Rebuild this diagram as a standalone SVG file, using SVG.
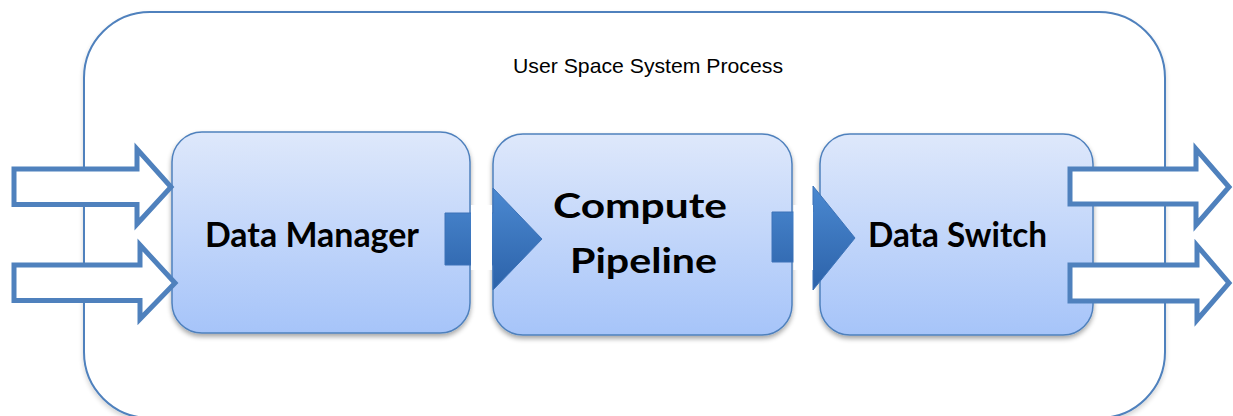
<svg xmlns="http://www.w3.org/2000/svg" width="1233" height="416" viewBox="0 0 1233 416">
  <defs>
    <linearGradient id="boxFill" x1="0" y1="0" x2="0" y2="1">
      <stop offset="0" stop-color="#dee8fb"/>
      <stop offset="1" stop-color="#a6c4f9"/>
    </linearGradient>
    <linearGradient id="flowFill" x1="0" y1="0" x2="0" y2="1">
      <stop offset="0" stop-color="#4b89d1"/>
      <stop offset="1" stop-color="#2c62a9"/>
    </linearGradient>
    <filter id="boxShadow" x="-10%" y="-10%" width="120%" height="125%">
      <feGaussianBlur in="SourceAlpha" stdDeviation="2.5"/>
      <feOffset dx="0" dy="3" result="b"/>
      <feComponentTransfer><feFuncA type="linear" slope="0.35"/></feComponentTransfer>
      <feMerge><feMergeNode/><feMergeNode in="SourceGraphic"/></feMerge>
    </filter>
    <filter id="frameShadow" x="-5%" y="-5%" width="110%" height="115%">
      <feGaussianBlur in="SourceAlpha" stdDeviation="2.5"/>
      <feOffset dx="0" dy="3" result="b"/>
      <feComponentTransfer><feFuncA type="linear" slope="0.18"/></feComponentTransfer>
      <feMerge><feMergeNode/><feMergeNode in="SourceGraphic"/></feMerge>
    </filter>
  </defs>
  <style>
    .frame { fill: #ffffff; stroke: #4f81bd; stroke-width: 2; }
    .box { fill: url(#boxFill); stroke: #4f81bd; stroke-width: 1.5; }
    .flow { fill: url(#flowFill); stroke: #3c73b8; stroke-width: 1; }
    .port { fill: #ffffff; stroke: #4f81bd; stroke-width: 5; stroke-linejoin: miter; }
    .gap { fill: #ffffff; }
    .title { font-family: "Liberation Sans", Arial, sans-serif; font-size: 21px; fill: #000000; text-anchor: middle; }
    .label { font-family: Lato, "Open Sans", sans-serif; font-weight: 700; font-size: 34px; fill: #000000; text-anchor: middle; }
  </style>

  <!-- process container -->
  <g id="process">
    <rect class="frame" x="84" y="12" width="1081" height="406" rx="66" ry="66" filter="url(#frameShadow)"/>
    <text class="title" x="648" y="73" textLength="270" lengthAdjust="spacingAndGlyphs">User Space System Process</text>
  </g>

  <g id="data-manager">
    <rect class="box" x="172" y="132" width="298" height="201" rx="30" ry="30" filter="url(#boxShadow)"/>
    <text class="label" x="312" y="247" textLength="214" lengthAdjust="spacingAndGlyphs">Data Manager</text>
  </g>

  <g id="compute-pipeline">
    <rect class="box" x="493" y="134" width="299" height="201" rx="30" ry="30" filter="url(#boxShadow)"/>
    <text class="label" x="640" y="218" textLength="174" lengthAdjust="spacingAndGlyphs">Compute</text>
    <text class="label" x="643.5" y="273" textLength="147" lengthAdjust="spacingAndGlyphs">Pipeline</text>
  </g>

  <g id="data-switch">
    <rect class="box" x="820" y="134" width="273" height="201" rx="30" ry="30" filter="url(#boxShadow)"/>
    <text class="label" x="957.5" y="247" textLength="179" lengthAdjust="spacingAndGlyphs">Data Switch</text>
  </g>

  <!-- flow between stages; the white strips keep the gaps between stages open -->
  <g id="connectors">
    <polygon class="flow" points="445,213 493,213 493,188 542,239 493,290 493,265 445,265"/>
    <polygon class="flow" points="772,212 813,212 813,186 855,238 813,290 813,262 772,262"/>
    <rect class="gap" x="471" y="205" width="21" height="65"/>
    <rect class="gap" x="793.5" y="205" width="19.5" height="65"/>
  </g>

  <!-- inputs and outputs -->
  <g id="input-ports">
    <polygon class="port" points="14,169 137,169 137,149 171,187 137,224 137,204.5 14,204.5"/>
    <polygon class="port" points="14,265 140,265 140,245 175,283 140,319 140,300.5 14,300.5"/>
  </g>
  <g id="output-ports">
    <polygon class="port" points="1070,169 1196,169 1196,149 1229,187 1196,225 1196,204 1070,204"/>
    <polygon class="port" points="1070,265 1197,265 1197,245.5 1229,283 1197,320 1197,301 1070,301"/>
  </g>
</svg>
